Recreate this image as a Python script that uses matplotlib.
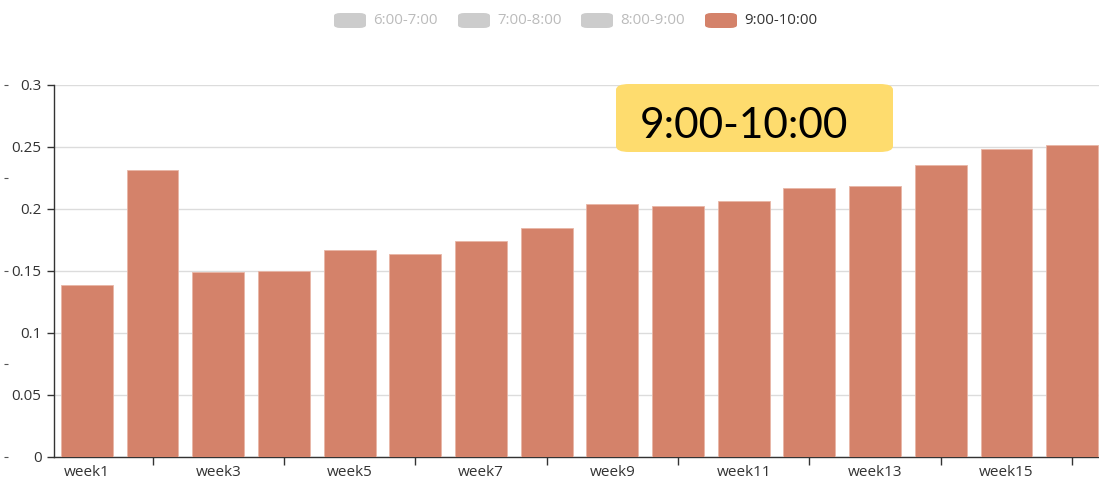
import numpy as np
import matplotlib.pyplot as plt
from matplotlib.patches import FancyBboxPatch

weeks = [f'week{i}' for i in range(1, 17)]
values = [0.1387, 0.2315, 0.149, 0.150, 0.167, 0.1637, 0.174, 0.1847,
          0.204, 0.2024, 0.2065, 0.217, 0.2185, 0.2355, 0.248, 0.2516]
legend_names = ['6:00-7:00', '7:00-8:00', '8:00-9:00', '9:00-10:00']
legend_active = [False, False, False, True]
yticks = [0, 0.05, 0.1, 0.15, 0.2, 0.25, 0.3]
ytick_labels = ['0', '0.05', '0.1', '0.15', '0.2', '0.25', '0.3']
highlight = '9:00-10:00'

bar_color = '#d4826a'
plt.rcParams['font.family'] = ['Open Sans', 'DejaVu Sans']

W, H = 1099, 482
fig = plt.figure(figsize=(W / 100, H / 100), dpi=100)
left, right, top, bottom = 54, 1105, 85, 457
ax = fig.add_axes([left / W, (H - bottom) / H, (right - left) / W, (bottom - top) / H])

x = np.arange(len(weeks))
ax.bar(x, values, width=0.79, color=bar_color, edgecolor='#e8b6a6', linewidth=0.6, zorder=3)
ax.set_xlim(-0.5, len(weeks) - 0.5)
ax.set_ylim(0, 0.3)

ax.set_yticks(yticks)
ax.set_yticklabels(ytick_labels)
ax.yaxis.grid(True, color='#dcdcdc', linewidth=1, zorder=0)

# labels under odd weeks, tick marks at even weeks
ax.set_xticks(x[::2])
ax.set_xticklabels(weeks[::2])
ax.set_xticks(x[1::2], minor=True)
ax.tick_params(axis='x', which='major', length=0, pad=6)
ax.tick_params(axis='x', which='minor', length=6, color='#333333', width=1)
ax.tick_params(axis='y', length=5, color='#333333', width=1, pad=4)
ax.tick_params(labelsize=11, labelcolor='#333333')

for side in ['top', 'right']:
    ax.spines[side].set_visible(False)
for side in ['left', 'bottom']:
    ax.spines[side].set_color('#333333')
    ax.spines[side].set_linewidth(1)

# stray tick marks of a neighbouring chart at the left edge
ax2 = fig.add_axes([-0.5, (H - bottom) / H, 0.5032, (bottom - top) / H])
ax2.set_ylim(0, 1)
ax2.set_yticks(np.linspace(0, 1, 5))
ax2.tick_params(axis='y', direction='out', left=False, right=True, length=3,
                color='#555555', labelleft=False)
ax2.set_xticks([])
for s in ax2.spines.values():
    s.set_visible(False)
ax2.patch.set_visible(False)

# legend drawn at the top
legend_x = [334, 458, 581, 705]
for name, active, lx in zip(legend_names, legend_active, legend_x):
    c = bar_color if active else '#cccccc'
    tc = '#333333' if active else '#bbbbbb'
    box = FancyBboxPatch((lx / W, (H - 28) / H), 32 / W, 15 / H,
                         boxstyle='round,pad=0,rounding_size=0.006',
                         transform=fig.transFigure, facecolor=c, edgecolor='none')
    fig.patches.append(box)
    fig.text((lx + 39) / W, (H - 20) / H, name, fontsize=10.8, color=tc, va='center', ha='left')

# highlighted label box
tag = FancyBboxPatch((616 / W, (H - 152) / H), 277 / W, 68 / H,
                     boxstyle='round,pad=0,rounding_size=0.012',
                     transform=fig.transFigure, facecolor='#fedc6e', edgecolor='none', zorder=5)
fig.patches.append(tag)
fig.text(640 / W, (H - 126) / H, highlight, fontsize=30.5, color='black',
         va='center', ha='left', family=['Lato', 'DejaVu Sans'], zorder=6)

fig.savefig('out.png', dpi=100)
